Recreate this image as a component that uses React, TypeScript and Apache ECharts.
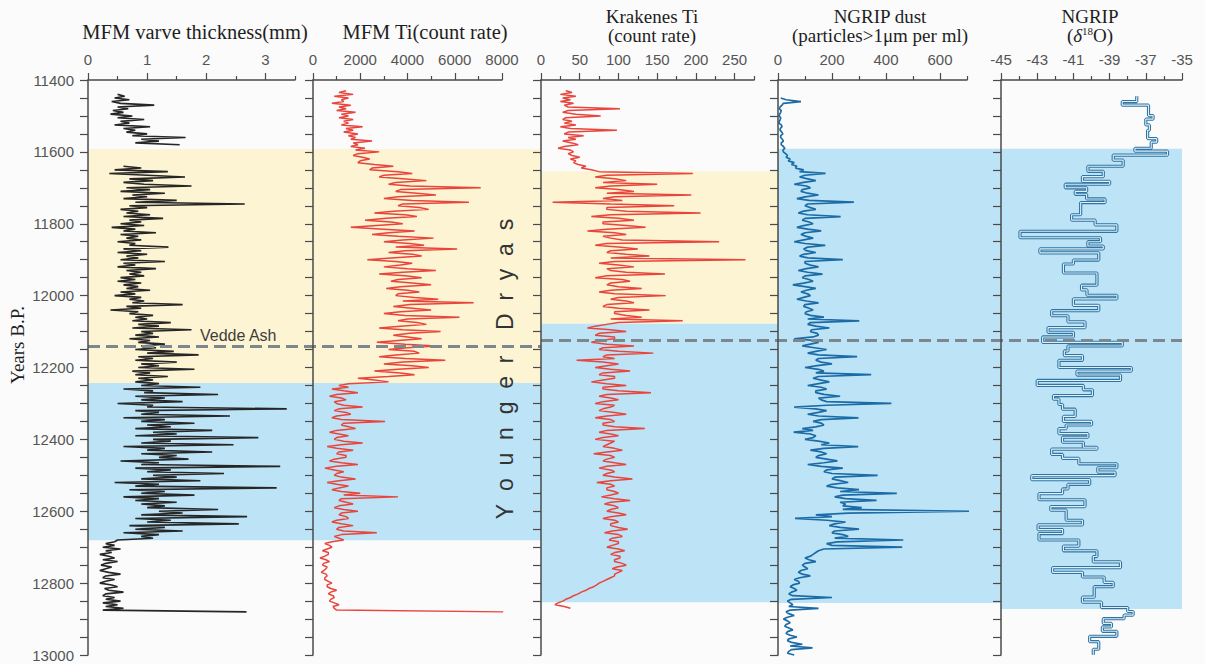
import React, { useEffect, useRef } from "react";
import * as echarts from "echarts";

// ---------- shared vertical axis (years B.P.) ----------
const Y_MIN = 11400;
const Y_MAX = 13000;
const Y_STEP = 200;
const STEP = 5;

// ---------- MFM varve thickness (mm) ----------
const VARVE_TOP_START = 11440;
const VARVE_TOP = [
  0.5, 0.62, 0.45, 0.7, 0.4, 0.55, 1.12, 0.5, 0.68, 0.42,
  0.6, 0.38, 0.75, 0.5, 0.95, 0.55, 0.7, 0.45, 1.05, 0.6,
  0.8, 0.65, 1.0, 0.75, 1.65, 0.9, 1.2, 0.8, 1.55,
];
const VARVE_MAIN_START = 11640;
const VARVE_MAIN = [
  0.6, 0.9, 0.45, 1.35, 0.36, 1.0, 1.64, 0.7, 1.1, 0.6,
  0.95, 1.75, 0.65, 1.05, 0.55, 1.3, 0.75, 1.0, 0.6, 1.5,
  0.8, 2.65, 0.7, 1.0, 0.55, 0.85, 0.65, 1.05, 0.6, 1.27,
  0.7, 0.9, 0.55, 0.95, 0.4, 0.8, 0.6, 1.15, 0.55, 0.85,
  0.65, 0.9, 0.5, 0.8, 0.7, 1.36, 0.6, 0.9, 0.5, 1.0,
  0.65, 0.85, 0.55, 1.3, 0.6, 0.8, 0.5, 1.15, 0.65, 0.9,
  0.7, 0.95, 0.55, 0.8, 0.5, 0.9, 0.6, 0.85, 0.65, 1.05,
  0.55, 0.8, 0.45, 0.9, 0.7, 0.95, 0.75, 1.6, 0.65, 0.9,
  0.38, 0.85, 0.7, 1.1, 0.8, 1.0, 0.75, 1.4, 0.85, 1.2,
  0.75, 1.75, 0.9, 1.1, 0.8, 1.2, 0.7, 1.05, 0.85, 1.3,
  0.9, 1.15, 0.8, 1.45, 1.0, 1.87, 0.85, 1.1, 0.8, 1.5,
  0.9, 1.2, 0.85, 1.8, 0.75, 1.05, 0.8, 1.35, 0.85, 1.1,
  0.8, 1.2, 0.9, 1.9, 0.6, 1.1, 0.95, 2.2, 0.8, 1.3,
  0.9, 1.6, 0.5, 1.1, 1.0, 3.36, 0.8, 1.2, 0.9, 2.4,
  0.6, 1.3, 0.9, 1.8, 1.0, 1.4, 0.8, 2.1, 1.1, 1.5,
  0.8, 2.88, 1.1, 1.4, 0.9, 2.46, 0.6, 1.3, 1.0, 2.1,
  0.9, 1.5, 1.2, 1.7, 0.55, 1.2, 0.9, 3.25, 0.8, 1.4,
  1.0, 2.3, 1.1, 1.5, 0.9, 1.9, 0.45, 1.2, 0.8, 3.19,
  0.7, 1.3, 0.9, 1.8, 0.6, 1.2, 0.8, 1.5, 0.9, 1.3,
  1.0, 2.2, 1.2, 1.6, 0.9, 2.69, 0.8, 1.4, 1.0, 2.55,
  0.7, 1.3, 0.8, 1.6, 0.6, 1.2, 0.9, 1.1, 0.5, 0.45,
  0.3, 0.45, 0.25, 0.55, 0.3, 0.4, 0.2, 0.35, 0.45, 0.25,
  0.5, 0.3, 0.22, 0.4, 0.3, 0.2, 0.35, 0.55, 0.3, 0.25,
  0.45, 0.3, 0.2, 0.4, 0.5, 0.28, 0.35, 0.6, 0.3, 0.25,
  0.45, 0.3, 0.55, 0.25, 0.5, 0.3, 0.6, 0.25, 2.68,
];

// ---------- MFM Ti (count rate) ----------
const MFM_TI_START = 11430;
const MFM_TI = [
  1400, 1100, 1700, 900, 1500, 1200, 1300, 800, 1600, 1100,
  1400, 1000, 1800, 1200, 1500, 1100, 1700, 1300, 1500, 1200,
  2100, 1400, 1700, 1300, 1900, 1500, 1800, 1600, 2500, 1700,
  1900, 1600, 2200, 1800, 2800, 1900, 1700, 2100, 2400, 2000,
  1900, 2600, 3400, 2500, 2400, 3600, 4200, 3000, 2800, 3800,
  4800, 3500, 3200, 4100, 7100, 3700, 3500, 4400, 5200, 3600,
  3000, 4200, 6600, 3800, 3600, 4500, 4900, 3400, 2600, 3900,
  4400, 3100, 2200, 3300, 3800, 2700, 1600, 3000, 4300, 3200,
  2500, 3600, 5100, 3800, 3000, 4100, 4700, 3500, 6100, 3900,
  3200, 4200, 4600, 3300, 2300, 3500, 4200, 3700, 3000, 4000,
  5200, 3800, 2800, 3900, 4600, 3600, 3300, 4200, 5000, 3700,
  3100, 4000, 4500, 3600, 3500, 4300, 5300, 3800, 6800, 4100,
  3400, 4200, 5000, 3700, 3000, 3900, 6200, 4000, 3600, 4400,
  4800, 3700, 2800, 3800, 5400, 4100, 3400, 4000, 4600, 3600,
  2700, 3900, 5200, 4000, 3200, 4300, 4500, 3500, 2800, 3900,
  5600, 3800, 3000, 4200, 4900, 3600, 2600, 3700, 4300, 3200,
  1900, 2600, 3200, 1500, 1100, 1500, 800, 1300, 1900, 1000,
  700, 1200, 1400, 900, 1000, 1300, 2100, 1100, 900, 1400,
  1600, 1000, 800, 1200, 3050, 1300, 1200, 1500, 1800, 1000,
  700, 1100, 1500, 1000, 900, 1300, 2100, 1200, 600, 1000,
  1700, 1100, 1000, 1400, 1400, 900, 700, 1200, 1900, 1000,
  500, 900, 1300, 1000, 900, 1200, 1800, 1100, 600, 1000,
  1500, 1100, 800, 1200, 2000, 1300, 3600, 1200, 1100, 1400,
  1700, 1100, 900, 1300, 1900, 1200, 1100, 1400, 1500, 1000,
  800, 1200, 1700, 1100, 1000, 1300, 2700, 1200, 900, 1100,
  1300, 800, 500, 700, 800, 600, 400, 650, 650, 500,
  300, 550, 700, 450, 400, 600, 550, 450, 350, 550,
  600, 500, 500, 650, 800, 600, 600, 750, 1000, 750,
  650, 850, 900, 750, 700, 900, 1100, 850, 900, 1000,
  8050,
];

// ---------- Krakenes Ti (count rate) ----------
const KRAK_TI_START = 11430;
const KRAK_TI = [
  32, 40, 25, 45, 28, 38, 25, 42, 30, 35,
  102, 35, 28, 45, 77, 32, 28, 40, 30, 45,
  25, 38, 98, 35, 30, 55, 35, 45, 28, 40,
  48, 30, 22, 38, 42, 35, 40, 50, 38, 45,
  42, 48, 58, 52, 65, 75, 196, 85, 70, 95,
  110, 80, 150, 90, 70, 100, 120, 85, 194, 95,
  80, 105, 15, 90, 172, 85, 85, 110, 206, 90,
  65, 100, 120, 80, 80, 110, 135, 85, 60, 95,
  110, 80, 90, 105, 230, 85, 70, 100, 125, 90,
  85, 110, 140, 90, 264, 95, 75, 100, 120, 85,
  90, 110, 160, 85, 70, 105, 115, 90, 85, 100,
  130, 90, 75, 95, 161, 100, 90, 110, 120, 85,
  80, 100, 140, 95, 95, 110, 130, 90, 183, 100,
  85, 70, 60, 90, 110, 75, 70, 95, 95, 75,
  65, 85, 120, 80, 75, 100, 145, 85, 80, 95,
  46, 80, 100, 85, 70, 90, 115, 80, 75, 95,
  95, 80, 65, 85, 110, 80, 80, 100, 142, 85,
  75, 90, 100, 80, 70, 95, 90, 80, 75, 95,
  110, 85, 70, 90, 95, 80, 80, 95, 134, 85,
  75, 90, 100, 80, 70, 95, 90, 85, 80, 95,
  105, 85, 68, 90, 95, 85, 80, 95, 110, 85,
  75, 90, 95, 85, 80, 95, 118, 90, 72, 90,
  95, 85, 85, 95, 100, 90, 78, 95, 115, 90,
  82, 95, 100, 90, 85, 100, 110, 90, 80, 95,
  100, 90, 90, 100, 112, 92, 82, 100, 105, 92,
  88, 100, 100, 92, 85, 100, 108, 95, 90, 102,
  102, 95, 95, 105, 110, 98, 92, 105, 100, 95,
  95, 90, 85, 80, 75, 72, 68, 62, 58, 52,
  48, 42, 38, 32, 28, 22, 18, 30, 38,
];

// ---------- NGRIP dust (particles > 1 µm per ml) ----------
const DUST_START = 11450;
const DUST = [
  10, 30, 85, 20, 15, 8, 5, 12, 10, 6,
  4, 10, 8, 5, 3, 12, 15, 8, 8, 14,
  18, 10, 10, 16, 20, 12, 12, 20, 25, 18,
  20, 28, 35, 30, 45, 38, 60, 50, 70, 65,
  95, 80, 176, 100, 80, 110, 140, 95, 60, 105,
  120, 90, 85, 110, 150, 100, 70, 115, 281, 110,
  100, 120, 140, 95, 75, 110, 232, 100, 90, 115,
  130, 95, 70, 110, 160, 100, 85, 105, 130, 95,
  60, 100, 175, 110, 95, 105, 140, 95, 80, 110,
  240, 100, 100, 120, 150, 105, 75, 110, 165, 100,
  90, 115, 130, 95, 55, 100, 140, 105, 85, 110,
  120, 95, 70, 105, 150, 100, 95, 115, 130, 105,
  100, 120, 170, 110, 301, 120, 110, 140, 190, 125,
  120, 145, 150, 130, 60, 140, 150, 120, 90, 135,
  180, 140, 110, 150, 293, 150, 140, 160, 200, 145,
  100, 150, 170, 140, 345, 150, 130, 160, 190, 150,
  110, 160, 180, 140, 140, 170, 230, 150, 160, 180,
  420, 180, 60, 140, 180, 150, 110, 150, 298, 160,
  130, 160, 170, 140, 90, 130, 58, 120, 140, 130,
  100, 150, 190, 160, 297, 170, 120, 160, 180, 150,
  140, 180, 220, 170, 110, 160, 240, 180, 170, 200,
  369, 210, 200, 230, 260, 200, 180, 220, 300, 230,
  440, 240, 210, 250, 365, 230, 250, 240, 310, 240,
  710, 260, 140, 200, 63, 180, 250, 210, 190, 230,
  300, 210, 200, 240, 260, 210, 464, 220, 180, 200,
  460, 170, 150, 140, 130, 120, 100, 115, 140, 100,
  90, 100, 110, 85, 75, 90, 120, 80, 60, 75,
  80, 55, 45, 60, 70, 50, 40, 55, 200, 50,
  35, 45, 55, 40, 150, 45, 30, 40, 60, 35,
  20, 35, 45, 30, 25, 40, 55, 35, 30, 45,
  70, 40, 35, 50, 90, 45, 128, 50, 40, 35,
  60,
];

// ---------- NGRIP d18O (permil), step record ----------
const D18O_BOUNDS = [
  11445, 11460, 11470, 11499, 11509, 11525, 11540, 11563, 11573, 11590,
  11598, 11609, 11623, 11640, 11654, 11669, 11682, 11690, 11700, 11710,
  11718, 11731, 11741, 11775, 11790, 11803, 11821, 11839, 11850, 11862,
  11870, 11881, 11901, 11912, 11937, 11971, 11984, 11999, 12009, 12027,
  12042, 12056, 12073, 12089, 12102, 12115, 12130, 12140, 12154, 12167,
  12180, 12200, 12210, 12221, 12236, 12250, 12262, 12278, 12288, 12303,
  12316, 12336, 12350, 12360, 12370, 12384, 12394, 12408, 12422, 12427,
  12442, 12453, 12468, 12479, 12491, 12501, 12512, 12525, 12538, 12551,
  12568, 12587, 12597, 12625, 12638, 12651, 12662, 12680, 12697, 12710,
  12726, 12741, 12757, 12770, 12783, 12798, 12810, 12839, 12853, 12868,
  12879, 12889, 12899, 12912, 12922, 12934, 12948, 12963, 12984, 12999,
];
const D18O = [
  -37.5, -38.3, -36.85, -36.6, -37.0, -36.8, -36.9, -36.4, -36.7, -37.6,
  -35.8, -38.8, -38.25, -40.2, -39.35, -40.5, -39.0, -41.45, -40.27, -40.9,
  -40.27, -39.25, -40.6, -41.1, -39.8, -38.6, -43.95, -39.5, -40.2, -39.35,
  -42.85, -39.6, -41.0, -41.55, -39.7, -40.55, -40.25, -38.6, -41.0, -39.6,
  -42.2, -41.3, -40.36, -42.4, -41.0, -42.7, -38.3, -41.3, -41.5, -40.5,
  -41.8, -37.8, -40.8, -38.4, -43.0, -40.45, -39.95, -42.1, -41.8, -41.6,
  -40.9, -41.55, -40.0, -41.4, -41.8, -40.2, -41.6, -40.45, -39.7, -42.2,
  -41.6, -40.7, -38.6, -39.65, -38.7, -43.3, -40.1, -41.3, -41.6, -42.9,
  -40.36, -42.25, -41.4, -40.5, -42.95, -41.6, -42.9, -40.7, -41.55, -39.7,
  -39.9, -38.4, -42.15, -40.5, -39.3, -38.8, -39.85, -40.5, -39.45, -38.0,
  -37.7, -38.2, -39.35, -38.9, -39.4, -38.6, -40.1, -39.6, -39.9,
];

// ---------- axis ticks ----------
const VARVE_TICKS = [0, 1, 2, 3];
const VARVE_MINOR = [0.5, 1.5, 2.5, 3.5];
const MFM_TICKS = [0, 2000, 4000, 6000, 8000];
const MFM_MINOR = [1000, 3000, 5000, 7000];
const KRAK_TICKS = [0, 50, 100, 150, 200, 250];
const KRAK_MINOR = [25, 75, 125, 175, 225, 275];
const DUST_TICKS = [0, 200, 400, 600];
const DUST_MINOR = [100, 300, 500, 700];
const D18O_TICKS = [-45, -43, -41, -39, -37, -35];
const D18O_MINOR = [-44, -42, -40, -38, -36];

// ---------- period boundaries (years) ----------
const YD_VARVE = [11592, 12243];
const GI1_VARVE_END = 12681;
const YD_KRAK = [11654, 12078];
const GI1_KRAK_END = 12853;
const GS1_NGRIP_START = 11591;
const NGRIP_DUST_END = 12855;
const NGRIP_D18O_END = 12872;
const VEDDE_ASH = 12140;
const VEDDE_NGRIP = 12123;

const YELLOW = "#fcf4d2";
const BLUE = "#bde3f6";
const AX = "#4a4a4a";
const SANS = "'Liberation Sans', Arial, sans-serif";
const SERIF = "'Liberation Serif', 'Times New Roman', serif";

const TOP = 80;
const HEIGHT = 575;

const panels = [
  { left: 88, width: 207, min: 0, max: 3.5, ticks: VARVE_TICKS, minor: VARVE_MINOR },
  { left: 313, width: 189, min: 0, max: 8000, ticks: MFM_TICKS, minor: MFM_MINOR },
  { left: 541, width: 213, min: 0, max: 275, ticks: KRAK_TICKS, minor: KRAK_MINOR },
  { left: 778, width: 189, min: 0, max: 700, ticks: DUST_TICKS, minor: DUST_MINOR },
  { left: 1001, width: 181, min: -45, max: -35, ticks: D18O_TICKS, minor: D18O_MINOR },
];

const shades = [
  { left: 88, width: 453, bands: [[YD_VARVE[0], YD_VARVE[1], YELLOW], [YD_VARVE[1], GI1_VARVE_END, BLUE]], line: VEDDE_ASH },
  { left: 541, width: 237, bands: [[YD_KRAK[0], YD_KRAK[1], YELLOW], [YD_KRAK[1], GI1_KRAK_END, BLUE]], line: null },
  { left: 778, width: 223, bands: [[GS1_NGRIP_START, NGRIP_DUST_END, BLUE]], line: null },
  { left: 1001, width: 181, bands: [[GS1_NGRIP_START, NGRIP_D18O_END, BLUE]], line: null },
  { left: 541, width: 641, bands: [], line: VEDDE_NGRIP },
];

const toPairs = (vals: number[], start: number) => vals.map((v, i) => [v, start + i * STEP]);

function stepPairs(bounds: number[], vals: number[]) {
  const out: number[][] = [];
  vals.forEach((v, i) => {
    out.push([v, bounds[i]]);
    out.push([v, bounds[i + 1]]);
  });
  return out;
}

function buildOption() {
  const grid: any[] = [];
  const xAxis: any[] = [];
  const yAxis: any[] = [];
  const series: any[] = [];

  panels.forEach((p) => grid.push({ left: p.left, top: TOP, width: p.width, height: HEIGHT }));
  shades.forEach((s) => grid.push({ left: s.left, top: TOP, width: s.width, height: HEIGHT }));

  // main x axes 0..4
  panels.forEach((p, i) => {
    xAxis.push({
      type: "value",
      gridIndex: i,
      position: "top",
      min: p.min,
      max: p.max,
      z: 10,
      axisLine: { show: true, onZero: false, lineStyle: { color: AX, width: 1.5 } },
      axisTick: { show: true, customValues: p.ticks, length: 7, lineStyle: { color: AX, width: 1.2 } },
      axisLabel: {
        show: true,
        customValues: p.ticks,
        margin: 13,
        fontSize: 15,
        color: "#555",
        fontFamily: SANS,
        formatter: (v: number) => String(v),
      },
      splitLine: { show: false },
    });
  });
  // minor-tick x axes 5..9
  panels.forEach((p, i) => {
    xAxis.push({
      type: "value",
      gridIndex: i,
      position: "top",
      min: p.min,
      max: p.max,
      z: 10,
      axisLine: { show: false },
      axisTick: { show: true, customValues: p.minor, length: 4, lineStyle: { color: AX, width: 1.2 } },
      axisLabel: { show: false },
      splitLine: { show: false },
    });
  });
  // shading x axes 10..14
  shades.forEach((s, i) => {
    xAxis.push({ type: "value", gridIndex: panels.length + i, min: 0, max: 1, show: false });
  });

  // main y axes 0..4
  panels.forEach((p, i) => {
    yAxis.push({
      type: "value",
      gridIndex: i,
      inverse: true,
      min: Y_MIN,
      max: Y_MAX,
      interval: Y_STEP,
      z: 10,
      axisLine: { show: true, onZero: false, lineStyle: { color: AX, width: 1.5 } },
      axisTick: { show: true, length: 8, lineStyle: { color: AX, width: 1.2 } },
      minorTick: { show: true, splitNumber: 4, length: 8, lineStyle: { color: AX, width: 1.2 } },
      axisLabel: {
        show: i === 0,
        fontSize: 15,
        color: "#555",
        margin: 14,
        fontFamily: SANS,
        formatter: (v: number) => String(v),
      },
      splitLine: { show: false },
      minorSplitLine: { show: false },
    });
  });
  // shading y axes 5..9
  shades.forEach((s, i) => {
    yAxis.push({ type: "value", gridIndex: panels.length + i, inverse: true, min: Y_MIN, max: Y_MAX, show: false });
  });

  // shading / dashed marker series
  shades.forEach((s, i) => {
    const ser: any = {
      type: "line",
      xAxisIndex: panels.length * 2 + i,
      yAxisIndex: panels.length + i,
      data: [[0, Y_MIN]],
      symbol: "none",
      lineStyle: { opacity: 0 },
      silent: true,
      z: 1,
    };
    if (s.bands.length) {
      ser.markArea = {
        silent: true,
        z: 1,
        data: s.bands.map((b: any) => [{ yAxis: b[0], itemStyle: { color: b[2] } }, { yAxis: b[1] }]),
      };
    }
    if (s.line !== null) {
      ser.markLine = {
        silent: true,
        z: 6,
        symbol: ["none", "none"],
        label: { show: false },
        lineStyle: { color: "#7d878e", width: 3, type: [12, 6] },
        data: [{ yAxis: s.line }],
      };
    }
    series.push(ser);
  });

  const line = (idx: number, data: number[][], color: string, width: number, extra: any = {}) => ({
    type: "line",
    xAxisIndex: idx,
    yAxisIndex: idx,
    data,
    symbol: "none",
    showSymbol: false,
    silent: true,
    z: 3,
    lineStyle: { color, width },
    ...extra,
  });

  series.push(line(0, toPairs(VARVE_TOP, VARVE_TOP_START), "#262626", 1.6));
  series.push(line(0, toPairs(VARVE_MAIN, VARVE_MAIN_START), "#262626", 1.6));
  series.push(line(1, toPairs(MFM_TI, MFM_TI_START), "#e8453d", 1.5));
  series.push(line(2, toPairs(KRAK_TI, KRAK_TI_START), "#e8453d", 1.5));
  series.push(line(3, toPairs(DUST, DUST_START), "#1b6ca6", 1.7, { clip: false }));
  const d18 = stepPairs(D18O_BOUNDS, D18O);
  series.push(line(4, d18, "#2f74a3", 3.2));
  series.push(line(4, d18, "#dff0fa", 1.1, { z: 4 }));

  const title = (text: string, x: number, y: number, size: number, extra: any = {}) => ({
    type: "text",
    x,
    y,
    z: 20,
    style: {
      text,
      fill: "#1e1e1e",
      fontSize: size,
      fontFamily: SERIF,
      align: "center",
      verticalAlign: "middle",
      ...extra,
    },
  });

  const graphic: any[] = [
    title("MFM varve thickness(mm)", 195, 31.5, 20.5),
    title("MFM Ti(count rate)", 425, 31.5, 20.5),
    title("Krakenes Ti", 652, 16, 19),
    title("(count rate)", 652, 35, 19),
    title("NGRIP dust", 880, 16, 19),
    title("(particles>1μm per ml)", 880, 35, 19),
    title("NGRIP", 1090, 16, 19),
    title("({d|δ}{s|18}O)", 1090, 35, 19, {
      rich: {
        d: { fontStyle: "italic", fontSize: 19, fontFamily: SERIF, fill: "#1e1e1e" },
        s: { fontSize: 11, fontFamily: SERIF, fill: "#1e1e1e", verticalAlign: "top" },
      },
    }),
    {
      type: "text",
      x: 17,
      y: 345,
      rotation: Math.PI / 2,
      z: 20,
      style: { text: "Years B.P.", fill: "#1e1e1e", fontSize: 19, fontFamily: SERIF, align: "center", verticalAlign: "middle" },
    },
    {
      type: "text",
      x: 200,
      y: 335,
      z: 20,
      style: { text: "Vedde Ash", fill: "#3d3d3d", fontSize: 16, fontFamily: SANS, align: "left", verticalAlign: "middle" },
    },
    {
      type: "text",
      x: 505,
      y: 369,
      rotation: Math.PI / 2,
      z: 20,
      style: {
        text: "Y\u00a0\u00a0o\u00a0\u00a0u\u00a0\u00a0n\u00a0\u00a0g\u00a0\u00a0e\u00a0\u00a0r\u00a0\u00a0\u00a0\u00a0D\u00a0\u00a0r\u00a0\u00a0y\u00a0\u00a0a\u00a0\u00a0s",
        fill: "#333",
        fontSize: 23,
        fontFamily: SANS,
        align: "center",
        verticalAlign: "middle",
      },
    },
  ];

  return {
    animation: false,
    backgroundColor: "#fbfbfb",
    grid,
    xAxis,
    yAxis,
    series,
    graphic,
  };
}

export default function App() {
  const ref = useRef<HTMLDivElement>(null);
  useEffect(() => {
    if (!ref.current) return;
    const chart = echarts.init(ref.current, undefined, { renderer: "svg", width: 1205, height: 664 });
    chart.setOption(buildOption() as any);
    return () => chart.dispose();
  }, []);
  return <div ref={ref} style={{ position: "fixed", left: 0, top: 0, width: 1205, height: 664 }} />;
}
